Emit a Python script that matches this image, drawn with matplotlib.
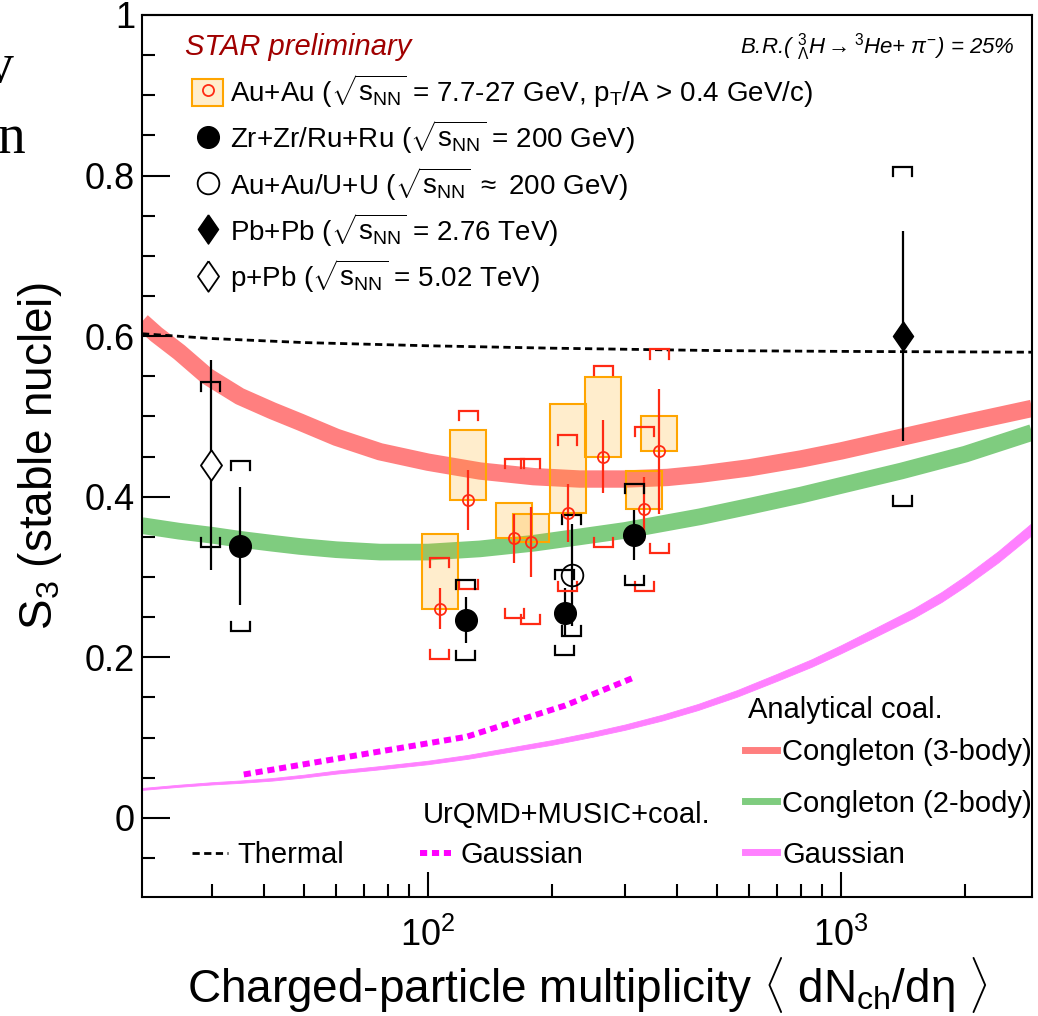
import numpy as np
import matplotlib
matplotlib.use("Agg")
import matplotlib.pyplot as plt
from matplotlib.lines import Line2D
from matplotlib.patches import Patch, Rectangle
from matplotlib.legend_handler import HandlerTuple
from matplotlib.ticker import FixedLocator, LogLocator, NullFormatter

plt.rcParams["font.family"] = ["Liberation Sans", "DejaVu Sans"]
plt.rcParams["mathtext.fontset"] = "custom"
plt.rcParams["mathtext.rm"] = "Liberation Sans"
plt.rcParams["mathtext.it"] = "Liberation Sans:italic"
plt.rcParams["mathtext.bf"] = "Liberation Sans:bold"

# --- measurements: S3 vs <dNch/deta> ---
# Au+Au, sqrt(sNN) = 7.7-27 GeV (stat, upward sys box, B.R. bracket)
auau_mult = [106.9, 125.2, 161.8, 177.3, 217.8, 265.3, 334.0, 362.6]
auau_s3 = [0.2605, 0.396, 0.348, 0.344, 0.3795, 0.450, 0.3845, 0.4565]
auau_stat = [0.0255, 0.037, 0.031, 0.0435, 0.0365, 0.046, 0.0395, 0.078]
auau_sys = [0.0935, 0.087, 0.044, 0.034, 0.1365, 0.099, 0.0475, 0.0445]
auau_br = [0.063, 0.111, 0.099, 0.103, 0.097, 0.113, 0.102, 0.127]

# Zr+Zr / Ru+Ru at 200 GeV
iso_mult = [35.06, 123.4, 214.6, 315.4]
iso_s3 = [0.3387, 0.246, 0.2555, 0.3525]
iso_stat = [0.0735, 0.0285, 0.0305, 0.031]
iso_br = [0.106, 0.050, 0.053, 0.063]

# Au+Au / U+U at ~200 GeV
auu_mult = [222.9]
auu_s3 = [0.302]
auu_stat = [0.0635]
auu_br = [0.075]

# Pb+Pb 2.76 TeV and p+Pb 5.02 TeV
pbpb_mult = [1411.0]
pbpb_s3 = [0.600]
pbpb_stat = [0.1305]
pbpb_br = [0.211]

ppb_mult = [29.8]
ppb_s3 = [0.4398]
ppb_stat = [0.1305]
ppb_br = [0.103]

# --- model curves ---
thermal_mult = [20.3, 30, 50, 100, 200, 500, 1000, 2900]
thermal_s3 = [0.603, 0.597, 0.592, 0.588, 0.585, 0.582, 0.581, 0.580]

cong3_mult = [20.3, 22, 25, 29.2, 35, 42, 49, 60, 76.5, 100, 133.6, 180, 233, 300, 380, 455.6,
              600, 800, 1000, 1400, 2000, 2900]
cong3_s3 = [0.618, 0.602, 0.580, 0.550, 0.525, 0.507, 0.493, 0.474, 0.456, 0.443, 0.432, 0.425,
            0.422, 0.422, 0.424, 0.428, 0.436, 0.447, 0.457, 0.474, 0.492, 0.510]

cong2_mult = [20.3, 25, 30, 35, 42, 49, 60, 76.5, 100, 133.6, 180, 233, 300, 455.6, 600, 800,
              1000, 1400, 2000, 2900]
cong2_s3 = [0.364, 0.357, 0.352, 0.347, 0.342, 0.338, 0.334, 0.331, 0.331, 0.335, 0.342, 0.350,
            0.358, 0.375, 0.388, 0.402, 0.414, 0.432, 0.453, 0.480]

gaus_mult = [20.3, 25, 30, 35, 42, 50, 60, 75, 100, 125, 150, 200, 250, 300, 370, 450, 560, 700,
             850, 1000, 1200, 1500, 1750, 2000, 2400, 2900]
gaus_s3 = [0.036, 0.040, 0.043, 0.045, 0.048, 0.052, 0.057, 0.062, 0.069, 0.076, 0.083, 0.094,
           0.104, 0.113, 0.125, 0.138, 0.155, 0.175, 0.193, 0.210, 0.230, 0.255, 0.275, 0.295,
           0.325, 0.360]
gaus_halfwidth = [0.0012, 0.0013, 0.0014, 0.0015, 0.0016, 0.0017, 0.0019, 0.002, 0.0022, 0.0024,
                  0.0026, 0.0029, 0.0031, 0.0033, 0.0036, 0.0038, 0.0041, 0.0044, 0.0047, 0.005,
                  0.0054, 0.0058, 0.0062, 0.0065, 0.007, 0.0075]

urqmd_mult = [35.8, 124.0, 215.0, 316.0]
urqmd_s3 = [0.054, 0.101, 0.140, 0.175]

RED = "#ff2a14"
ORANGE = "#ffa500"
BOX_FILL = (1.0, 0.647, 0.0, 0.2)
CAP_F = 10 ** (9.5 / 413)   # half width of bracket caps (log x)
CAP_D = 0.0115              # length of bracket ends
BOX_F = 10 ** (18 / 413)    # half width of systematic boxes

diamond = [(0, 1), (0.69, 0), (0, -1), (-0.69, 0), (0, 1)]


def brackets(ax, xs, ys, errs, color):
    for x, y, e in zip(xs, ys, errs):
        xl, xr = x / CAP_F, x * CAP_F
        ax.plot([xl, xl, xr, xr], [y + e - CAP_D, y + e, y + e, y + e - CAP_D],
                color=color, lw=1.6, solid_joinstyle="miter", zorder=4)
        ax.plot([xl, xl, xr, xr], [y - e + CAP_D, y - e, y - e, y - e + CAP_D],
                color=color, lw=1.6, solid_joinstyle="miter", zorder=4)


fig = plt.figure(figsize=(10.38, 10.16), dpi=100)
ax = fig.add_axes([142 / 1038, 119 / 1016, 890 / 1038, 882 / 1016])

# model curves
ax.plot(cong3_mult, cong3_s3, color="#ff7f7f", lw=12.5, solid_capstyle="butt", zorder=1)
ax.plot(cong2_mult, cong2_s3, color="#7fcc7f", lw=12, solid_capstyle="butt", zorder=1)
g = np.array(gaus_s3)
w = np.array(gaus_halfwidth)
ax.fill_between(gaus_mult, g - w, g + w, color="#ff80ff", lw=0.6, ec="#ff80ff", zorder=1)
ax.plot(thermal_mult, thermal_s3, color="black", lw=2, ls=(0, (2.6, 1.6)), zorder=2)
ax.plot(urqmd_mult, urqmd_s3, color="#ff00ff", lw=4.3, ls=(0, (1.2, 0.8)),
        solid_capstyle="butt", zorder=2)

# Au+Au BES systematic boxes
for x, y, s in zip(auau_mult, auau_s3, auau_sys):
    ax.add_patch(Rectangle((x / BOX_F, y), x * BOX_F - x / BOX_F, s,
                           facecolor=BOX_FILL, edgecolor=ORANGE, lw=1.5, zorder=3))

# statistical errors
ax.errorbar(auau_mult, auau_s3, yerr=auau_stat, fmt="none", ecolor=RED, elinewidth=1.6, zorder=4)
for m, s, e in [(iso_mult, iso_s3, iso_stat), (auu_mult, auu_s3, auu_stat),
                (pbpb_mult, pbpb_s3, pbpb_stat), (ppb_mult, ppb_s3, ppb_stat)]:
    ax.errorbar(m, s, yerr=e, fmt="none", ecolor="black", elinewidth=1.6, zorder=4)

# B.R. brackets
brackets(ax, auau_mult, auau_s3, auau_br, RED)
brackets(ax, iso_mult, iso_s3, iso_br, "black")
brackets(ax, auu_mult, auu_s3, auu_br, "black")
brackets(ax, pbpb_mult, pbpb_s3, pbpb_br, "black")
brackets(ax, ppb_mult, ppb_s3, ppb_br, "black")

# markers
ax.plot(auau_mult, auau_s3, ls="none", marker="o", mfc="none", mec=RED, ms=8, mew=1.3, zorder=5)
ax.plot(iso_mult, iso_s3, ls="none", marker="o", color="black", ms=15.6, zorder=5)
ax.plot(auu_mult, auu_s3, ls="none", marker="o", mfc="none", mec="black", ms=15.6, mew=1.3, zorder=5)
ax.plot(pbpb_mult, pbpb_s3, ls="none", marker=diamond, color="black", ms=21, zorder=5)
ax.plot(ppb_mult, ppb_s3, ls="none", marker=diamond, mfc="white", mec="black", ms=22, mew=1.3, zorder=5)

# axes
ax.set_xscale("log")
ax.set_xlim(20.3, 2900)
ax.set_ylim(-0.0986, 1.0)
ax.xaxis.set_major_locator(FixedLocator([100, 1000]))
ax.set_xticklabels([r"$10^{2}$", r"$10^{3}$"])
ax.xaxis.set_minor_locator(LogLocator(base=10, subs=np.arange(2, 10)))
ax.xaxis.set_minor_formatter(NullFormatter())
ax.yaxis.set_major_locator(FixedLocator([0, 0.2, 0.4, 0.6, 0.8, 1.0]))
ax.set_yticklabels(["0", "0.2", "0.4", "0.6", "0.8", "1"])
ax.yaxis.set_minor_locator(FixedLocator(np.round(np.arange(-0.05, 1.0, 0.05), 2)))
ax.tick_params(which="both", direction="in", top=False, right=False, width=1.5, labelsize=26)
ax.tick_params(axis="y", which="major", length=20, pad=5)
ax.tick_params(axis="y", which="minor", length=9.5)
ax.tick_params(axis="x", which="major", length=18, pad=15)
ax.tick_params(axis="x", which="minor", length=9.5)
for sp in ax.spines.values():
    sp.set_linewidth(1.5)

ax.set_xlabel(r"Charged-particle multiplicity $\langle$ dN$_{\mathrm{ch}}$/d$\mathrm{\eta}$ $\rangle$",
              fontsize=33)
ax.xaxis.set_label_coords(0.5, -0.066)
ax.set_ylabel(r"S$_{3}$ (stable nuclei)", fontsize=33)
ax.yaxis.set_label_coords(-0.088, 0.5)

# headings
ax.text(0.0483, 0.9637, "STAR preliminary", transform=ax.transAxes, fontsize=21,
        fontstyle="italic", color="#a00000", ha="left", va="center")
ax.text(0.981, 0.9637, r"B.R.( ${}^{3}_{\Lambda}$H$\rightarrow$${}^{3}$He+ $\pi^{-}$) = 25%",
        transform=ax.transAxes, fontsize=16, fontstyle="italic", ha="right", va="center")
ax.text(0.3157, 0.093, "UrQMD+MUSIC+coal.", transform=ax.transAxes, fontsize=21,
        ha="left", va="center")
ax.text(0.6809, 0.212, "Analytical coal.", transform=ax.transAxes, fontsize=21,
        ha="left", va="center")

# legends
sq = r"$\sqrt{\mathrm{s}_{\mathrm{NN}}}$"
data_handles = [
    (Patch(facecolor=BOX_FILL, edgecolor=ORANGE, lw=1.5),
     Line2D([], [], ls="none", marker="o", mfc="none", mec=RED, ms=8, mew=1.3)),
    Line2D([], [], ls="none", marker="o", color="black", ms=15.6),
    Line2D([], [], ls="none", marker="o", mfc="none", mec="black", ms=15.6, mew=1.3),
    Line2D([], [], ls="none", marker=diamond, color="black", ms=21),
    Line2D([], [], ls="none", marker=diamond, mfc="white", mec="black", ms=22, mew=1.3),
]
data_labels = [
    "Au+Au (" + sq + r" = 7.7-27 GeV, p$_{\mathrm{T}}$/A > 0.4 GeV/c)",
    "Zr+Zr/Ru+Ru (" + sq + " = 200 GeV)",
    "Au+Au/U+U (" + sq + r" $\approx$ 200 GeV)",
    "Pb+Pb (" + sq + " = 2.76 TeV)",
    "p+Pb (" + sq + " = 5.02 TeV)",
]
leg1 = ax.legend(data_handles, data_labels, loc="center left", bbox_to_anchor=(0.0562, 0.8084),
                 frameon=False, fontsize=20, handlelength=1.12, handleheight=1.12,
                 handletextpad=0.25, labelspacing=0.33, borderpad=0, borderaxespad=0,
                 handler_map={tuple: HandlerTuple(ndivide=1)})
ax.add_artist(leg1)

leg2 = ax.legend([Line2D([], [], color="black", lw=2, ls=(0, (2.6, 1.6)))], ["Thermal"],
                 loc="center left", bbox_to_anchor=(0.0562, 0.0476), frameon=False, fontsize=21,
                 handlelength=1.25, handletextpad=0.3, borderpad=0, borderaxespad=0)
ax.add_artist(leg2)

leg3 = ax.legend([Line2D([], [], color="#ff00ff", lw=4.3, ls=(0, (1.2, 0.8)))], ["Gaussian"],
                 loc="center left", bbox_to_anchor=(0.3124, 0.0476), frameon=False, fontsize=21,
                 handlelength=1.05, handletextpad=0.35, borderpad=0, borderaxespad=0)
ax.add_artist(leg3)

ax.legend([Line2D([], [], color="#ff7f7f", lw=5), Line2D([], [], color="#7fcc7f", lw=5),
           Line2D([], [], color="#ff80ff", lw=5)],
          ["Congleton (3-body)", "Congleton (2-body)", "Gaussian"],
          loc="center left", bbox_to_anchor=(0.6775, 0.106), frameon=False, fontsize=21,
          handlelength=1.1, handletextpad=0.18, labelspacing=0.79, borderpad=0, borderaxespad=0)

# slide text cut at the left border
fig.text(-0.0135, 1 - 82 / 1016, "v", fontfamily="Liberation Serif", fontsize=40, va="baseline")
fig.text(-0.002, 1 - 153 / 1016, "n", fontfamily="Liberation Serif", fontsize=40, va="baseline")

fig.savefig("out.png", dpi=100)
